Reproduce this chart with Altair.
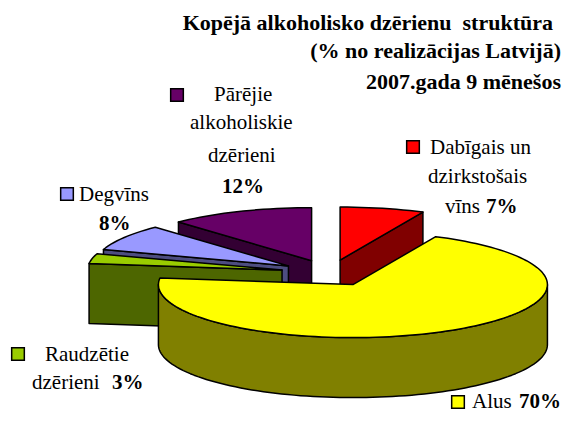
import math
import altair as alt

# Chart values
names = ["Dabīgais un dzirkstošais vīns", "Alus", "Raudzētie dzērieni", "Degvīns", "Pārējie alkoholiskie dzērieni"]
shares = [7, 70, 3, 8, 12]
top_colors = ["#FF0000", "#FFFF00", "#99CC00", "#9999FF", "#660066"]
side_colors = ["#800000", "#808000", "#4D6600", "#4D4D80", "#330033"]
draw_order = [4, 0, 3, 2, 1]

# Pie projection
OFF = 8
CX, CY = 329.5 - OFF, 273 - OFF
RX, RY, DEPTH = 194.5, 53, 60
EXPLODE = 0.25


def pt(c, a, dz=0.0):
    r = math.radians(a)
    return [c[0] + RX * math.sin(r), c[1] - RY * math.cos(r) + dz]


def feature(ring, color):
    return {"type": "Feature", "properties": {"color": color},
            "geometry": {"type": "Polygon", "coordinates": [ring + [ring[0]]]}}


def wall(c, a, color):
    p = pt(c, a)
    return feature([list(c), p, [p[0], p[1] + DEPTH], [c[0], c[1] + DEPTH]], color)


starts = [sum(shares[:i]) * 3.6 for i in range(len(shares))]
features = []
for i in draw_order:
    a0 = starts[i]
    a1 = a0 + shares[i] * 3.6
    mid = math.radians((a0 + a1) / 2)
    c = (CX + EXPLODE * RX * math.sin(mid), CY - EXPLODE * RY * math.cos(mid))
    if math.sin(math.radians(a0)) < -1e-6:
        features.append(wall(c, a0, side_colors[i]))
    if math.sin(math.radians(a1)) > 1e-6:
        features.append(wall(c, a1, side_colors[i]))
    w0, w1 = max(a0, 90), min(a1, 270)
    if w1 > w0:
        n = int((w1 - w0) / 2) + 2
        arc = [w0 + (w1 - w0) * k / n for k in range(n + 1)]
        upper = [pt(c, a) for a in arc]
        lower = [pt(c, a, dz=DEPTH) for a in reversed(arc)]
        features.append(feature(upper + lower, side_colors[i]))
    n = max(int((a1 - a0) / 2), 2)
    features.append(feature([list(c)] + [pt(c, a0 + (a1 - a0) * k / n) for k in range(n + 1)], top_colors[i]))

pie = alt.Chart(alt.Data(values=features)).mark_geoshape(stroke="black", strokeWidth=1.5, strokeJoin="round").encode(
    color=alt.Color("properties.color:N", scale=None)
).project(type="identity", scale=1, translate=[0, 0])

FONT = "Liberation Serif"
title_lines = ["Kopējā alkoholisko dzērienu\u00a0 struktūra", "(% no realizācijas Latvijā)", "2007.gada 9 mēnešos"]
title_x = [553, 561, 561]
title_y = [30, 58, 89]
title = alt.Chart(alt.Data(values=[{"t": t, "x": x - OFF, "y": y - OFF} for t, x, y in zip(title_lines, title_x, title_y)])).mark_text(
    font=FONT, fontSize=22, fontWeight="bold", align="right", baseline="alphabetic", color="black"
).encode(x=alt.X("x:Q", scale=None), y=alt.Y("y:Q", scale=None), text="t:N")

reg_text = ["Pārējie", "alkoholiskie", "dzērieni", "Dabīgais un", "dzirkstošais", "vīns", "Degvīns", "Raudzētie", "dzērieni", "Alus"]
reg_x = [214, 190, 208, 430, 428, 445, 79, 45, 32, 472]
reg_y = [101, 129, 162, 154, 183, 213, 201, 361, 389, 408]
bold_text = ["12%", "7%", "8%", "3%", "70%"]
bold_x = [222, 486, 99, 112, 519]
bold_y = [193, 213, 230, 389, 408]

regular = alt.Chart(alt.Data(values=[{"t": t, "x": x - OFF, "y": y - OFF} for t, x, y in zip(reg_text, reg_x, reg_y)])).mark_text(
    font=FONT, fontSize=21, align="left", baseline="alphabetic", color="black"
).encode(x=alt.X("x:Q", scale=None), y=alt.Y("y:Q", scale=None), text="t:N")
bold = alt.Chart(alt.Data(values=[{"t": t, "x": x - OFF, "y": y - OFF} for t, x, y in zip(bold_text, bold_x, bold_y)])).mark_text(
    font=FONT, fontSize=21, fontWeight="bold", align="left", baseline="alphabetic", color="black"
).encode(x=alt.X("x:Q", scale=None), y=alt.Y("y:Q", scale=None), text="t:N")

key_x = [413, 458, 18, 67, 177]
key_y = [147, 402, 354, 194, 95]
keys = alt.Chart(alt.Data(values=[{"x": x - OFF, "y": y - OFF, "c": c} for x, y, c in zip(key_x, key_y, top_colors)])).mark_square(
    size=160, opacity=1, stroke="black", strokeWidth=1.5
).encode(x=alt.X("x:Q", scale=None), y=alt.Y("y:Q", scale=None), fill=alt.Fill("c:N", scale=None))

chart = alt.layer(pie, keys, regular, bold, title).properties(
    width=554, height=405, padding=0, autosize=alt.AutoSizeParams(type="none")
).configure_view(stroke=None).configure_axis(disable=True)

chart.save("out.html", embed_options={"renderer": "svg", "actions": False})
